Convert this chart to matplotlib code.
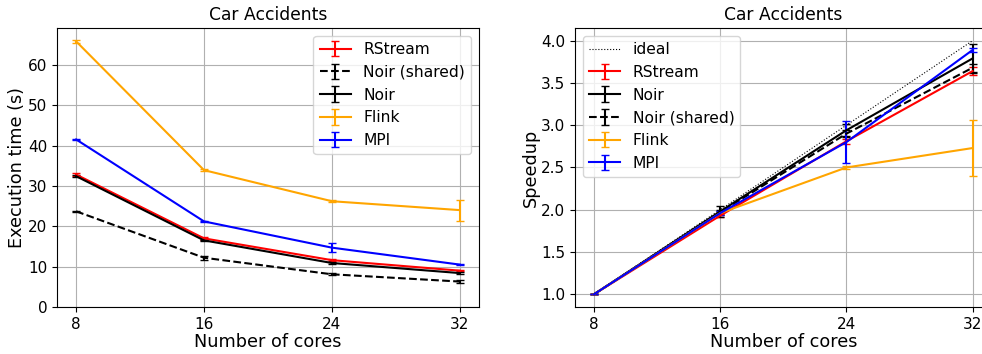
import matplotlib
matplotlib.use("Agg")
import matplotlib.pyplot as plt

cores = [8, 16, 24, 32]

# Execution time (s)
time_rstream = [32.8, 17.0, 11.6, 9.0]
time_rstream_err = [0.4, 0.3, 0.2, 0.2]
time_noir_shared = [23.7, 12.2, 8.1, 6.3]
time_noir_shared_err = [0.2, 0.5, 0.2, 0.4]
time_noir = [32.4, 16.5, 10.9, 8.4]
time_noir_err = [0.3, 0.2, 0.2, 0.3]
time_flink = [65.8, 33.9, 26.2, 24.0]
time_flink_err = [0.3, 0.3, 0.3, 2.6]
time_mpi = [41.5, 21.2, 14.7, 10.5]
time_mpi_err = [0.2, 0.2, 1.2, 0.2]

# Speedup relative to 8 cores
ideal = [1.0, 2.0, 3.0, 4.0]
sp_rstream = [1.0, 1.93, 2.81, 3.64]
sp_rstream_err = [0.0, 0.02, 0.03, 0.05]
sp_noir = [1.0, 1.98, 2.94, 3.79]
sp_noir_err = [0.0, 0.06, 0.07, 0.17]
sp_noir_shared = [1.0, 1.97, 2.90, 3.68]
sp_noir_shared_err = [0.0, 0.03, 0.04, 0.05]
sp_flink = [1.0, 1.96, 2.50, 2.73]
sp_flink_err = [0.0, 0.01, 0.02, 0.33]
sp_mpi = [1.0, 1.96, 2.80, 3.89]
sp_mpi_err = [0.0, 0.02, 0.25, 0.02]

title = "Car Accidents"

fig = plt.figure(figsize=(9.82, 3.54), dpi=100)
ax1 = fig.add_axes([0.0580, 0.1328, 0.4297, 0.7881])
ax2 = fig.add_axes([0.5855, 0.1328, 0.4242, 0.7881])

tick_fs = 11
label_fs = 12.7
title_fs = 12.3
legend_fs = 11.2

eb = dict(capsize=3, linewidth=1.5)

ax1.errorbar(cores, time_rstream, yerr=time_rstream_err, color="red", label="RStream", **eb)
ax1.errorbar(cores, time_noir_shared, yerr=time_noir_shared_err, color="black", linestyle="--", label="Noir (shared)", **eb)
ax1.errorbar(cores, time_noir, yerr=time_noir_err, color="black", label="Noir", **eb)
ax1.errorbar(cores, time_flink, yerr=time_flink_err, color="orange", label="Flink", **eb)
ax1.errorbar(cores, time_mpi, yerr=time_mpi_err, color="blue", label="MPI", **eb)
ax1.set_ylim(bottom=0)
ax1.set_xticks(cores)
ax1.grid(True)
ax1.set_title(title, fontsize=title_fs)
ax1.set_xlabel("Number of cores", fontsize=label_fs, labelpad=1)
ax1.set_ylabel("Execution time (s)", fontsize=label_fs, labelpad=1)
ax1.tick_params(labelsize=tick_fs)
ax1.legend(fontsize=legend_fs, loc="upper right")

ax2.plot(cores, ideal, color="black", linestyle=":", linewidth=0.8, label="ideal")
ax2.errorbar(cores, sp_rstream, yerr=sp_rstream_err, color="red", label="RStream", **eb)
ax2.errorbar(cores, sp_noir, yerr=sp_noir_err, color="black", label="Noir", **eb)
ax2.errorbar(cores, sp_noir_shared, yerr=sp_noir_shared_err, color="black", linestyle="--", label="Noir (shared)", **eb)
ax2.errorbar(cores, sp_flink, yerr=sp_flink_err, color="orange", label="Flink", **eb)
ax2.errorbar(cores, sp_mpi, yerr=sp_mpi_err, color="blue", label="MPI", **eb)
ax2.set_xticks(cores)
ax2.grid(True)
ax2.set_title(title, fontsize=title_fs)
ax2.set_xlabel("Number of cores", fontsize=label_fs, labelpad=1)
ax2.set_ylabel("Speedup", fontsize=label_fs, labelpad=1)
ax2.tick_params(labelsize=tick_fs)
ax2.legend(fontsize=legend_fs, loc="upper left")

fig.savefig("out.png", dpi=100)
